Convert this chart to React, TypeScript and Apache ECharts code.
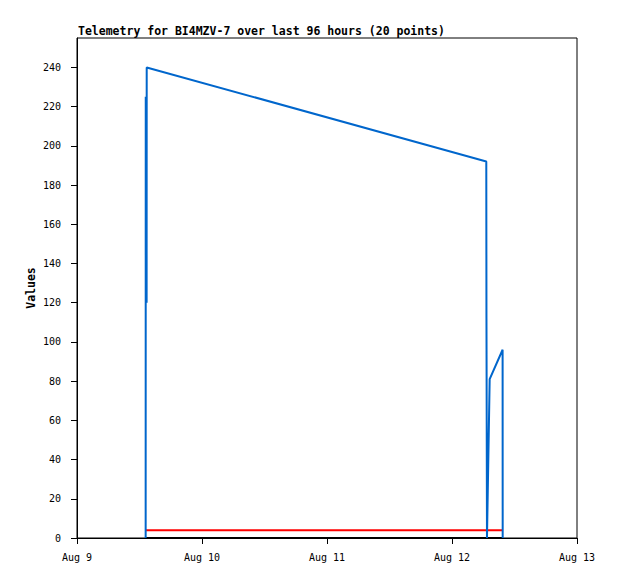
import React, { useEffect, useRef } from "react";
import * as echarts from "echarts";

const pointTimes = [
  "2023-08-09T13:11:00Z",
  "2023-08-09T13:12:00Z",
  "2023-08-09T13:22:00Z",
  "2023-08-09T13:23:00Z",
  "2023-08-12T06:35:00Z",
  "2023-08-12T06:37:00Z",
  "2023-08-12T06:43:00Z",
  "2023-08-12T07:14:00Z",
  "2023-08-12T09:43:00Z",
  "2023-08-12T09:44:00Z",
];
const blueValues = [0, 225, 120, 240, 192, 112, 0, 81, 96, 0];
const redValues = [3.9, 3.9, 3.9, 3.9, 3.9, 3.9, 3.9, 3.9, 3.9, 3.9];
const blackValues = [0, 0, 0, 0, 0, 0, 0, 0, 0, 0];
const xTickLabels = ["Aug 9", "Aug 10", "Aug 11", "Aug 12", "Aug 13"];
const yTickValues = [0, 20, 40, 60, 80, 100, 120, 140, 160, 180, 200, 220, 240];
const titleText = "Telemetry for BI4MZV-7 over last 96 hours (20 points)";
const yName = "Values";

const DAY = 86400000;
const X_MIN = Date.parse("2023-08-09T00:00:00Z");
const X_MAX = X_MIN + 4 * DAY;
const Y_MAX = 255;

const FONT = "'DejaVu Sans Mono', monospace";

function toPairs(vals: number[]) {
  return vals.map((v, i) => [Date.parse(pointTimes[i]), v]);
}

export default function App() {
  const ref = useRef<HTMLDivElement>(null);
  useEffect(() => {
    if (!ref.current) return;
    const chart = echarts.init(ref.current, undefined, { renderer: "svg" });
    chart.setOption({
      animation: false,
      backgroundColor: "#ffffff",
      title: {
        text: titleText,
        left: 73,
        top: 20,
        textStyle: { fontFamily: FONT, fontSize: 11.5, fontWeight: "bold", color: "#000" },
      },
      grid: {
        left: 77,
        top: 38,
        width: 500,
        height: 500,
        show: true,
        borderColor: "#000",
        borderWidth: 1,
        backgroundColor: "transparent",
      },
      xAxis: {
        type: "value",
        min: X_MIN,
        max: X_MAX,
        interval: DAY,
        axisLine: { show: true, lineStyle: { color: "#000", width: 1 } },
        axisTick: { show: true, length: 6, lineStyle: { color: "#000" } },
        splitLine: { show: false },
        axisLabel: {
          margin: 14,
          fontFamily: FONT,
          fontSize: 10,
          color: "#000",
          showMinLabel: true,
          showMaxLabel: true,
          formatter: (v: number) => xTickLabels[Math.round((v - X_MIN) / DAY)] ?? "",
        },
      },
      yAxis: {
        type: "value",
        min: 0,
        max: Y_MAX,
        interval: 20,
        name: yName,
        nameLocation: "middle",
        nameGap: 40,
        nameMoveOverlap: false,
        nameTextStyle: { fontFamily: FONT, fontSize: 11.5, fontWeight: "bold", color: "#000" },
        axisLine: { show: true, lineStyle: { color: "#000", width: 1 } },
        axisTick: { show: true, length: 6, customValues: yTickValues, lineStyle: { color: "#000" } },
        splitLine: { show: false },
        axisLabel: {
          margin: 16,
          fontFamily: FONT,
          fontSize: 10,
          color: "#000",
          customValues: yTickValues,
        },
      },
      series: [
        {
          type: "line",
          data: toPairs(blackValues),
          symbol: "none",
          clip: false,
          lineStyle: { color: "#000000", width: 2 },
          z: 2,
        },
        {
          type: "line",
          data: toPairs(redValues),
          symbol: "none",
          clip: false,
          lineStyle: { color: "#ff0000", width: 2 },
          z: 3,
        },
        {
          type: "line",
          data: toPairs(blueValues),
          symbol: "none",
          clip: false,
          lineStyle: { color: "#0066cc", width: 2 },
          z: 4,
        },
      ],
    });
    return () => chart.dispose();
  }, []);
  return (
    <div
      ref={ref}
      style={{ position: "fixed", left: 0, top: 0, width: 618, height: 579, background: "#fff" }}
    />
  );
}
